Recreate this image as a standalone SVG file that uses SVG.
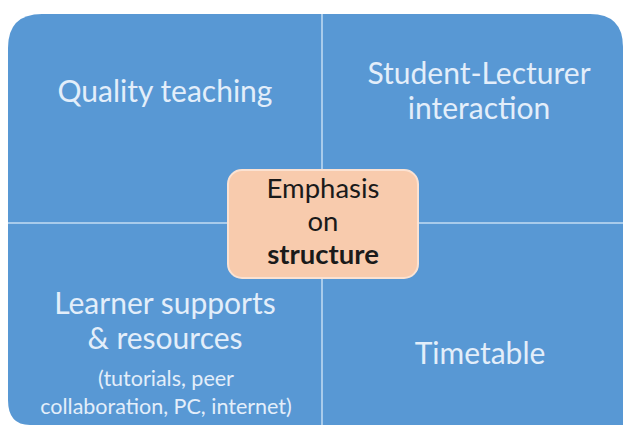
<svg xmlns="http://www.w3.org/2000/svg" width="625" height="425" viewBox="0 0 625 425">
  <style>
    .quad { fill: #5898d4; }
    .divider { stroke: #a8cbeb; stroke-width: 2; fill: none; }
    .lbl { font-family: Lato, "Open Sans", sans-serif; fill: #e3eefa; text-anchor: middle; }
    .big { font-size: 30px; }
    .small { font-size: 21.5px; }
    .hub { fill: #f8cbad; stroke: #fbe2d2; stroke-width: 2; }
    .hubtxt { font-family: Lato, "Open Sans", sans-serif; font-size: 27.5px; fill: #1a1a1a; text-anchor: middle; }
  </style>

  <rect width="625" height="425" fill="#ffffff"/>

  <!-- four quadrants, each rounded at its outer corner -->
  <g id="quality-teaching">
    <path class="quad" d="M8,48 Q8,14 42,14 L322,14 L322,223 L8,223 Z"/>
    <text class="lbl big" x="165" y="102">Quality teaching</text>
  </g>
  <g id="student-lecturer">
    <path class="quad" d="M322,14 L590,14 Q623,14 623,47 L623,223 L322,223 Z"/>
    <text class="lbl big" x="479" y="84">Student-Lecturer</text>
    <text class="lbl big" x="479" y="119">interaction</text>
  </g>
  <g id="learner-supports">
    <path class="quad" d="M8,223 L322,223 L322,425 L30,425 Q8,425 8,400 Z"/>
    <text class="lbl big" x="165" y="314">Learner supports</text>
    <text class="lbl big" x="165" y="349">&amp; resources</text>
    <text class="lbl small" x="166" y="386">(tutorials, peer</text>
    <text class="lbl small" x="166" y="414">collaboration, PC, internet)</text>
  </g>
  <g id="timetable">
    <path class="quad" d="M322,223 L623,223 L623,425 L322,425 Z"/>
    <text class="lbl big" x="480" y="364">Timetable</text>
  </g>

  <!-- dividing lines between the quadrants -->
  <g id="connectors">
    <line class="divider" x1="322" y1="14" x2="322" y2="425"/>
    <line class="divider" x1="8" y1="223" x2="623" y2="223"/>
  </g>

  <!-- central hub -->
  <g id="emphasis-on-structure">
    <rect class="hub" x="228" y="170" width="190" height="108" rx="14"/>
    <text class="hubtxt" x="323" y="198">Emphasis</text>
    <text class="hubtxt" x="323" y="231">on</text>
    <text class="hubtxt" x="323" y="264" font-weight="bold">structure</text>
  </g>
</svg>
